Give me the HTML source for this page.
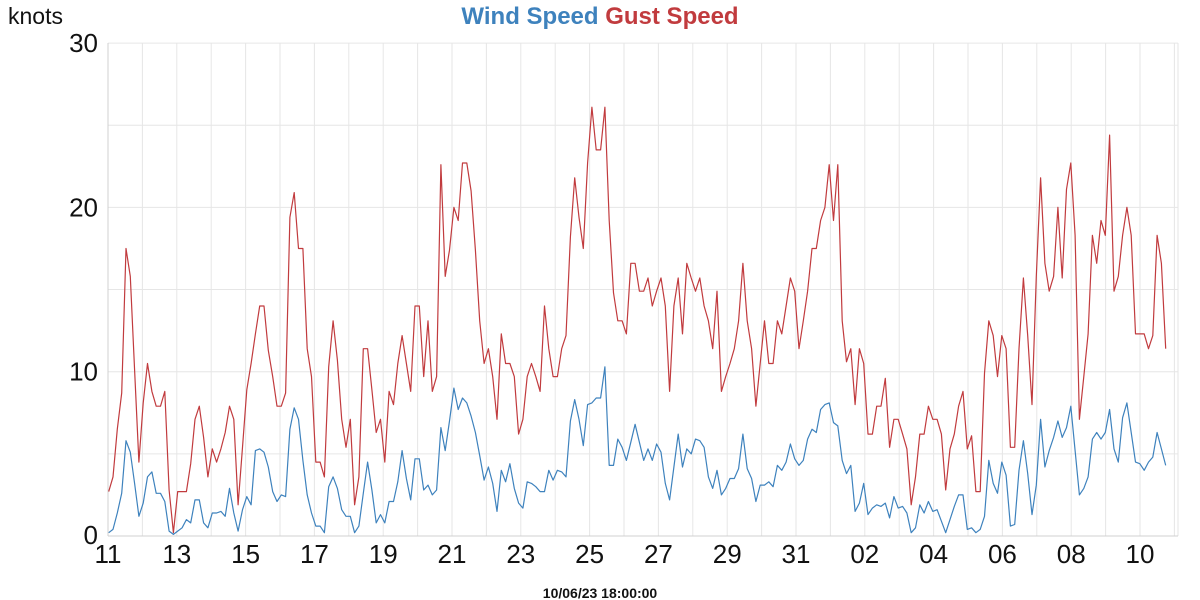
<!DOCTYPE html>
<html><head><meta charset="utf-8"><style>
html,body{margin:0;padding:0;background:#fff;}
svg{display:block;font-family:"Liberation Sans","DejaVu Sans",sans-serif;}
</style></head><body>
<svg id="chart" width="1200" height="600" viewBox="0 0 1200 600" xmlns="http://www.w3.org/2000/svg">
<g id="grid"></g>
<g id="axes"></g>
<g id="series"></g>
<text x="8" y="24" font-size="23" fill="#111">knots</text>
<text x="600" y="24" font-size="24" font-weight="bold" text-anchor="middle"><tspan fill="#3e82bd">Wind Speed</tspan> <tspan fill="#c13b3e">Gust Speed</tspan></text>
<text x="600" y="598" font-size="14" font-weight="bold" text-anchor="middle" fill="#111">10/06/23 18:00:00</text>
</svg>
<script>
const gustSpeed = [2.7,3.6,6.5,8.7,17.5,15.8,10.1,4.5,8.1,10.5,8.8,7.9,7.9,8.8,2.8,0.2,2.7,2.7,2.7,4.4,7.1,7.9,6.0,3.6,5.3,4.5,5.3,6.3,7.9,7.1,1.9,5.4,8.9,10.5,12.3,14.0,14.0,11.3,9.7,7.9,
7.9,8.7,19.4,20.9,17.5,17.5,11.4,9.7,4.5,4.5,3.6,10.3,13.1,10.7,7.1,5.4,7.1,1.9,3.6,11.4,11.4,8.9,6.3,7.1,4.5,8.8,8.0,10.5,12.2,10.5,8.8,14.0,14.0,9.7,13.1,8.8,9.7,22.6,15.8,17.4,
20.0,19.2,22.7,22.7,21.0,17.4,13.1,10.5,11.4,9.7,7.1,12.3,10.5,10.5,9.7,6.2,7.1,9.7,10.5,9.7,8.8,14.0,11.4,9.7,9.7,11.4,12.2,18.2,21.8,19.4,17.5,22.7,26.1,23.5,23.5,26.1,19.2,14.8,13.1,13.1,
12.3,16.6,16.6,14.9,14.9,15.7,14.0,14.9,15.7,14.0,8.8,14.0,15.7,12.3,16.6,15.7,14.9,15.7,14.0,13.1,11.4,14.9,8.8,9.7,10.5,11.4,13.1,16.6,13.1,11.4,7.9,10.5,13.1,10.5,10.5,13.1,12.3,14.0,15.7,14.9,
11.4,13.1,14.9,17.5,17.5,19.2,20.0,22.6,19.2,22.6,13.1,10.6,11.4,8.0,11.4,10.5,6.2,6.2,7.9,7.9,9.6,5.4,7.1,7.1,6.2,5.3,1.9,3.6,6.2,6.2,7.9,7.1,7.1,6.2,2.8,5.3,6.2,7.9,8.8,5.3,
6.1,2.7,2.7,9.9,13.1,12.2,9.7,12.2,11.4,5.4,5.4,11.4,15.7,12.2,8.0,15.8,21.8,16.6,14.9,15.8,20.0,15.7,21.1,22.7,18.3,7.1,9.7,12.3,18.3,16.6,19.2,18.3,24.4,14.9,15.8,18.3,20.0,18.3,12.3,12.3,12.3,11.4,12.2,18.3,16.6,11.4];
const windSpeed = [0.2,0.4,1.4,2.6,5.8,5.1,3.2,1.2,2.0,3.6,3.9,2.6,2.6,2.1,0.3,0.1,0.3,0.5,1.0,0.8,2.2,2.2,0.8,0.5,1.4,1.4,1.5,1.2,2.9,1.4,0.3,1.6,2.4,1.9,5.2,5.3,5.1,4.2,2.7,2.1,
2.5,2.4,6.5,7.8,7.1,4.6,2.5,1.4,0.6,0.6,0.2,3.0,3.6,2.9,1.6,1.2,1.2,0.2,0.6,2.6,4.5,2.8,0.8,1.3,0.8,2.1,2.1,3.3,5.2,3.5,2.2,4.7,4.7,2.8,3.1,2.5,2.8,6.6,5.2,7.0,
9.0,7.7,8.4,8.1,7.3,6.3,4.9,3.4,4.2,3.2,1.5,4.0,3.3,4.4,2.9,2.0,1.7,3.3,3.2,3.0,2.7,2.7,4.0,3.4,4.0,3.9,3.6,7.0,8.3,7.1,5.5,8.0,8.1,8.4,8.4,10.3,4.3,4.3,5.9,5.4,
4.6,5.7,6.8,5.7,4.6,5.3,4.6,5.6,5.1,3.2,2.2,4.2,6.2,4.2,5.3,5.0,5.9,5.8,5.4,3.6,2.9,4.0,2.5,2.9,3.5,3.5,4.1,6.2,4.1,3.5,2.1,3.1,3.1,3.3,3.0,4.3,4.0,4.5,5.6,4.7,
4.3,4.6,5.9,6.5,6.3,7.7,8.0,8.1,6.9,6.7,4.6,3.8,4.3,1.5,2.0,3.2,1.3,1.7,1.9,1.8,2.0,1.1,2.4,1.7,1.8,1.4,0.2,0.5,1.9,1.4,2.1,1.5,1.6,0.9,0.2,1.0,1.8,2.5,2.5,0.4,
0.5,0.2,0.4,1.2,4.6,3.2,2.6,4.5,3.7,0.6,0.7,4.0,5.8,3.8,1.3,3.1,7.1,4.2,5.2,6.0,7.0,6.0,6.6,7.9,5.2,2.5,2.9,3.6,5.9,6.3,5.9,6.3,7.7,5.3,4.5,7.2,8.1,6.3,4.5,4.4,4.0,4.5,4.8,6.3,5.3,4.3];
const xTickLabels = ["11","13","15","17","19","21","23","25","27","29","31","02","04","06","08","10"];
const yTickValues = [0,10,20,30];
const stepHours = 3.01;
const startHour = 0.5;

const NS = "http://www.w3.org/2000/svg";
const X0 = 108, PX_PER_DAY = 34.4, Y0 = 536, PX_PER_KNOT = 16.43, XR = 1178, YT = 43;
function xScale(hours){ return X0 + hours/24*PX_PER_DAY; }
function yScale(v){ return Y0 - v*PX_PER_KNOT; }
function mk(tag, attrs, parent){ const e=document.createElementNS(NS,tag); for(const k in attrs) e.setAttribute(k,attrs[k]); parent.appendChild(e); return e; }

const grid=document.getElementById('grid'), axes=document.getElementById('axes'), series=document.getElementById('series');
for(let d=0; d<=31; d++){
  const x=xScale(d*24); if(x>XR) break;
  const l=mk('line',{x1:x,x2:x,y1:YT,y2:Y0,stroke:'#e6e6e6','stroke-width':1},grid);
  
  
}
for(let v=0; v<=30; v+=5){
  const y=yScale(v);
  const l=mk('line',{x1:X0,x2:XR,y1:y,y2:y,stroke:'#e6e6e6','stroke-width':1},grid);
  
  
}
const rb=mk('line',{x1:XR,x2:XR,y1:YT,y2:Y0,stroke:'#e6e6e6','stroke-width':1},grid);


const ya=mk('line',{x1:X0,x2:X0,y1:YT,y2:Y0,stroke:'#d0d0d0','stroke-width':1},axes);


const xa=mk('line',{x1:X0,x2:XR,y1:Y0,y2:Y0,stroke:'#d0d0d0','stroke-width':1},axes);



yTickValues.forEach(v=>{
  const t=mk('text',{x:98,y:yScale(v)+ (v===0?8:9),'font-size':26,'text-anchor':'end',fill:'#111'},axes);
  t.textContent=String(v);
  
  
});
xTickLabels.forEach((lab,i)=>{
  const t=mk('text',{x:xScale(i*48),y:563,'font-size':26,'text-anchor':'middle',fill:'#111'},axes);
  t.textContent=lab;
  
  
});

function pathFor(arr){ return arr.map((v,i)=>(i?'L':'M')+xScale(startHour+i*stepHours).toFixed(1)+','+yScale(v).toFixed(1)).join(''); }
const g=mk('path',{d:pathFor(gustSpeed),fill:'none',stroke:'#c13b3e','stroke-width':1.2,'stroke-linejoin':'round'},series);


const w=mk('path',{d:pathFor(windSpeed),fill:'none',stroke:'#3e82bd','stroke-width':1.2,'stroke-linejoin':'round'},series);


</script>
</body></html>
